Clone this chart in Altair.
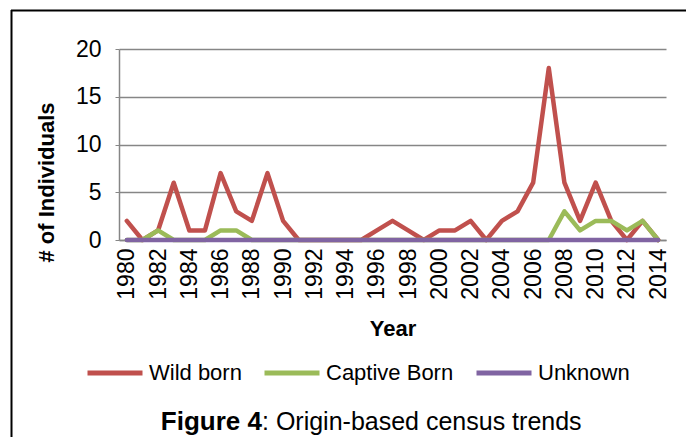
import altair as alt
import pandas as pd

years = list(range(1980, 2015))
wild_born = [2, 0, 1, 6, 1, 1, 7, 3, 2, 7, 2, 0, 0, 0, 0, 0, 1, 2, 1, 0,
             1, 1, 2, 0, 2, 3, 6, 18, 6, 2, 6, 2, 0, 2, 0]
captive_born = [0, 0, 1, 0, 0, 0, 1, 1, 0, 0, 0, 0, 0, 0, 0, 0, 0, 0, 0, 0,
                0, 0, 0, 0, 0, 0, 0, 0, 3, 1, 2, 2, 1, 2, 0]
unknown = [0] * 35
series_names = ["Wild born", "Captive Born", "Unknown"]
series_colors = ["#C0504D", "#9BBB59", "#8064A2"]
tick_years = list(range(1980, 2015, 2))

rows = []
for name, vals in zip(series_names, [wild_born, captive_born, unknown]):
    for y, v in zip(years, vals):
        rows.append({"Year": y, "Value": v, "Series": name})
df = pd.DataFrame(rows)

FONT = "Liberation Sans Narrow, Arial Narrow, Liberation Sans, Arial, sans-serif"

color = alt.Color(
    "Series:N",
    scale=alt.Scale(domain=series_names, range=series_colors),
    legend=alt.Legend(
        title=None, orient="none", direction="horizontal",
        legendX=-34, legendY=294,
        symbolType="stroke", symbolSize=3025, symbolStrokeWidth=5,
        labelFont=FONT, labelFontSize=22, labelColor="#000000",
        labelOffset=4, columnPadding=12, labelLimit=300,
    ),
)

x = alt.X(
    "Year:O",
    scale=alt.Scale(type="point", padding=0.5),
    axis=alt.Axis(
        values=tick_years, labelAngle=270, labelFont=FONT, labelFontSize=23,
        labelColor="#000000", labelPadding=8, ticks=False,
        domainColor="#868686", domainWidth=1.5,
        title="Year", titleFont=FONT, titleFontSize=22, titleFontWeight="bold",
        titleColor="#000000", titleY=78, titleBaseline="top",
    ),
)
y = alt.Y(
    "Value:Q",
    scale=alt.Scale(domain=[0, 20], nice=False),
    axis=alt.Axis(
        values=[0, 5, 10, 15, 20], labelFont=FONT, labelFontSize=23,
        labelColor="#000000", labelPadding=14, tickSize=4, tickColor="#868686",
        domainColor="#868686", domainWidth=1.5,
        gridColor="#868686", gridWidth=1.5,
        title="# of Individuals", titleFont=FONT, titleFontSize=22,
        titleFontWeight="bold", titleColor="#000000",
        titleX=-61, titleY=133,
    ),
)

base = alt.Chart(df)
layers = []
for name in series_names:
    layers.append(
        base.transform_filter(alt.datum.Series == name)
        .mark_line(strokeWidth=4.5, strokeJoin="round", strokeCap="round")
        .encode(x=x, y=y, color=color)
    )

border = alt.Chart(pd.DataFrame({"a": [0]})).mark_rule(
    color="#000000", strokeWidth=2
)
left_border = border.encode(
    x=alt.value(-107.5), x2=alt.value(-107.5), y=alt.value(-39), y2=alt.value(420)
)
top_border = border.encode(
    x=alt.value(-108), x2=alt.value(600), y=alt.value(-38.5), y2=alt.value(-38.5)
)

cap_df = pd.DataFrame({"bold": ["Figure 4"], "rest": [": Origin-based census trends"]})
cap_bold = alt.Chart(cap_df).mark_text(
    font=FONT, fontSize=26, fontWeight="bold", align="right", baseline="alphabetic",
    color="#000000",
).encode(text="bold:N", x=alt.value(143), y=alt.value(381))
cap_rest = alt.Chart(cap_df).mark_text(
    font=FONT, fontSize=25, align="left", baseline="alphabetic", color="#000000",
).encode(text="rest:N", x=alt.value(143), y=alt.value(381))

chart = alt.layer(*layers, left_border, top_border, cap_bold, cap_rest).properties(
    width=547, height=191,
    padding={"left": 111, "top": 41, "right": 20, "bottom": 197},
    autosize=alt.AutoSizeParams(type="none"),
    background="#FFFFFF",
).configure_view(stroke=None).configure_axis(grid=False).configure_axisY(grid=True)

chart.save("out.html", embed_options={"renderer": "svg", "actions": False})
